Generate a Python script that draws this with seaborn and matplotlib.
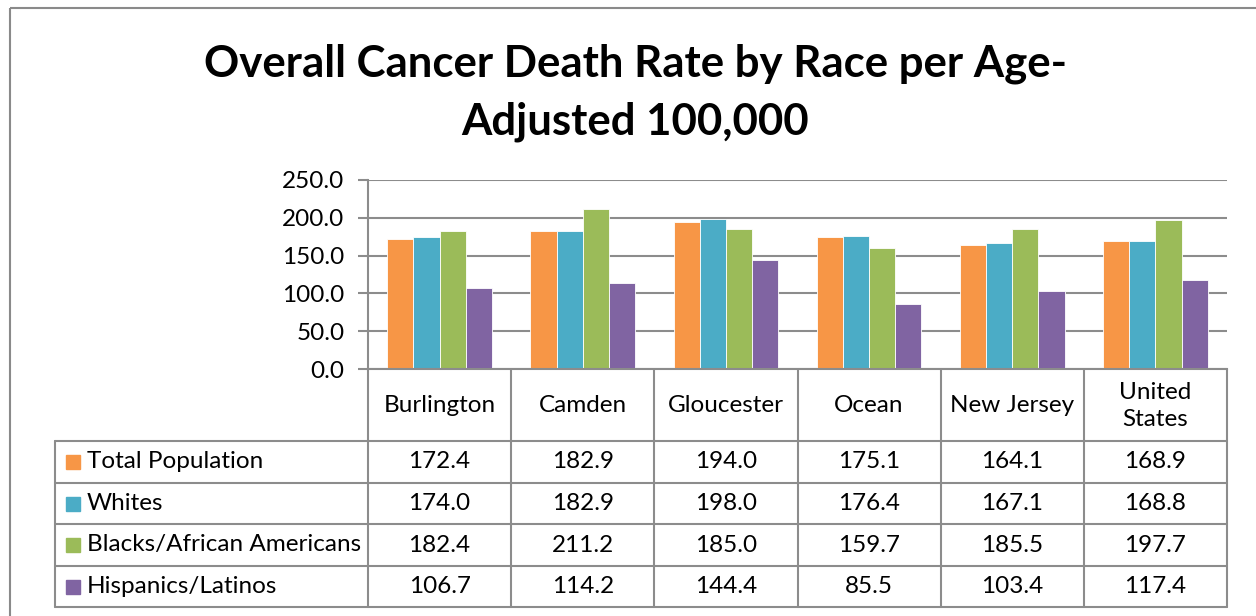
import matplotlib
matplotlib.use("Agg")
import matplotlib.pyplot as plt
import seaborn as sns
import pandas as pd
from matplotlib.patches import Rectangle

# data
regions = ["Burlington", "Camden", "Gloucester", "Ocean", "New Jersey", "United States"]
region_labels = ["Burlington", "Camden", "Gloucester", "Ocean", "New Jersey", "United\nStates"]
groups = ["Total Population", "Whites", "Blacks/African Americans", "Hispanics/Latinos"]
total_pop = [172.4, 182.9, 194.0, 175.1, 164.1, 168.9]
whites = [174.0, 182.9, 198.0, 176.4, 167.1, 168.8]
blacks = [182.4, 211.2, 185.0, 159.7, 185.5, 197.7]
hispanics = [106.7, 114.2, 144.4, 85.5, 103.4, 117.4]
colors = ["#F79646", "#4BACC6", "#9BBB59", "#8064A2"]
yticks = [0, 50, 100, 150, 200, 250]

series = [total_pop, whites, blacks, hispanics]
rows = []
for g, vals in zip(groups, series):
    for r, v in zip(regions, vals):
        rows.append({"region": r, "group": g, "rate": v})
df = pd.DataFrame(rows)

sns.set_theme(style="white")
plt.rcParams['font.family'] = ['Lato', 'DejaVu Sans']
plt.rcParams['text.color'] = 'black'

W, H = 1256, 616
fig = plt.figure(figsize=(W / 100, H / 100), dpi=100)
grid_c = "#8c8c8c"
fs = 17.5

# pixel layout of the plot area / table
x0, x1 = 368, 1227
y_top, y_zero = 180, 369
row_edges = [441, 483, 524, 566, 607]
legend_left = 55

ax = fig.add_axes([x0 / W, 1 - y_zero / H, (x1 - x0) / W, (y_zero - y_top) / H])
sns.barplot(data=df, x="region", y="rate", hue="group", order=regions, hue_order=groups,
            palette=colors, width=0.73, gap=0, saturation=1, legend=False, ax=ax,
            edgecolor="white", linewidth=0.6)
ax.set_ylim(0, 250)
ax.set_xlim(-0.5, len(regions) - 0.5)
ax.set_yticks(yticks)
ax.set_yticklabels(["{:.1f}".format(t) for t in yticks], fontsize=fs)
ax.set_xticks([])
ax.set_xlabel("")
ax.set_ylabel("")
ax.yaxis.grid(True, color=grid_c, linewidth=1.5)
ax.set_axisbelow(True)
for s in ["top", "right"]:
    ax.spines[s].set_visible(False)
for s in ["left", "bottom"]:
    ax.spines[s].set_color(grid_c)
    ax.spines[s].set_linewidth(1.5)
ax.tick_params(axis="y", left=True, length=7, width=1.5, color=grid_c, pad=10, labelcolor="black")

# overlay in pixel coordinates for table, title and frame
ov = fig.add_axes([0, 0, 1, 1], zorder=-1)
ov.set_xlim(0, W)
ov.set_ylim(H, 0)
ov.axis("off")
ov.add_patch(Rectangle((10, 8), W + 50, H + 50, fill=False, edgecolor="#8a8a8a", lw=1.5))

ov.text(635, 77, "Overall Cancer Death Rate by Race per Age-", ha="center", va="baseline",
        fontsize=31.5, fontweight="bold", color="black")
ov.text(635, 134, "Adjusted 100,000", ha="center", va="baseline",
        fontsize=31.5, fontweight="bold", color="black")

col_w = (x1 - x0) / len(regions)
col_edges = [x0 + i * col_w for i in range(len(regions) + 1)]
lw = 1.5
# vertical lines
for cx in col_edges:
    ov.plot([cx, cx], [y_zero, row_edges[-1]], color=grid_c, lw=lw)
ov.plot([legend_left, legend_left], [row_edges[0], row_edges[-1]], color=grid_c, lw=lw)
# horizontal lines
for ry in row_edges:
    ov.plot([legend_left, x1], [ry, ry], color=grid_c, lw=lw)

# header labels
for i, lab in enumerate(region_labels):
    ov.text(col_edges[i] + col_w / 2, (y_zero + row_edges[0]) / 2 + 1, lab, ha="center",
            va="center", fontsize=fs, linespacing=1.4)

# rows
for j, (g, vals, c) in enumerate(zip(groups, series, colors)):
    cy = (row_edges[j] + row_edges[j + 1]) / 2
    ov.add_patch(Rectangle((66, cy - 7), 14, 14, color=c))
    ov.text(87, cy, g, ha="left", va="center", fontsize=fs)
    for i, v in enumerate(vals):
        ov.text(col_edges[i] + col_w / 2, cy, "{:.1f}".format(v), ha="center", va="center", fontsize=fs)

fig.savefig("out.png", dpi=100)
